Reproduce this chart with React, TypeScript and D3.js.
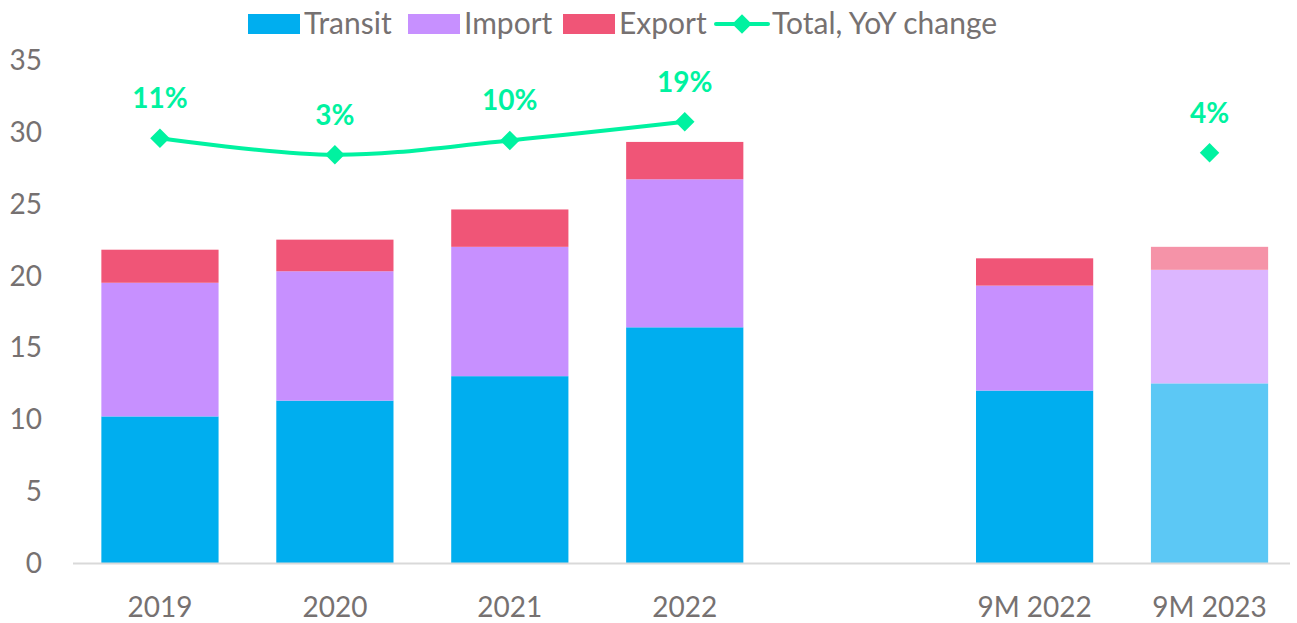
import React from "react";
import * as d3 from "d3";

const WIDTH = 1297;
const HEIGHT = 623;

// chart data
const categories = ["2019", "2020", "2021", "2022", "", "9M 2022", "9M 2023"];
const transit = [10.2, 11.3, 13.0, 16.4, null, 12.0, 12.5];
const importVals = [9.3, 9.0, 9.0, 10.3, null, 7.3, 7.9];
const exportVals = [2.3, 2.2, 2.6, 2.6, null, 1.9, 1.6];
const yoyChange = [0.11, 0.03, 0.10, 0.19, null, null, 0.04];
const yTicks = [0, 5, 10, 15, 20, 25, 30, 35];

const seriesNames = ["Transit", "Import", "Export"];
const colors = ["#00AEEF", "#C790FF", "#F05577"];
const lightColors = ["#5CC8F5", "#DCB6FF", "#F593A8"];
const GREEN = "#00F2A0";
const TEXT = "#767171";
const FONT = "Lato, 'Open Sans', sans-serif";

const margin = { left: 72.5, right: 0, top: 60, bottom: 60 };

function App() {
  const x = d3
    .scaleBand<string>()
    .domain(categories.map((c, i) => String(i)))
    .range([margin.left, WIDTH - margin.right])
    .paddingInner(0.33)
    .paddingOuter(0.165);

  const y = d3.scaleLinear().domain([0, 35]).range([563, 60]);
  // hidden secondary axis for the YoY line
  const y2 = d3.scaleLinear().domain([-1.95, 0.49]).range([563, 60]);

  const rows = categories.map((c, i) => ({
    key: String(i),
    label: c,
    vals: [transit[i], importVals[i], exportVals[i]],
  }));

  const stack = d3
    .stack<any>()
    .keys([0, 1, 2] as any)
    .value((d: any, k: any) => d.vals[k] ?? 0);
  const stacked = stack(rows);

  const linePts = yoyChange
    .map((v, i) => ({ v, i }))
    .filter((d) => d.v !== null && d.i <= 3) as { v: number; i: number }[];
  const allPts = yoyChange
    .map((v, i) => ({ v, i }))
    .filter((d) => d.v !== null) as { v: number; i: number }[];

  const cx = (i: number) => (x(String(i)) as number) + x.bandwidth() / 2;

  const line = d3
    .line<{ v: number; i: number }>()
    .x((d) => cx(d.i))
    .y((d) => y2(d.v))
    .curve(d3.curveCatmullRom);

  const diamond = d3.symbol().type(d3.symbolSquare).size(190);

  // legend layout
  const legend = [
    { name: "Transit", x: 248, type: "rect", color: colors[0] },
    { name: "Import", x: 408, type: "rect", color: colors[1] },
    { name: "Export", x: 563, type: "rect", color: colors[2] },
    { name: "Total, YoY change", x: 716, type: "line", color: GREEN },
  ];

  return (
    <svg
      width={WIDTH}
      height={HEIGHT}
      style={{ position: "absolute", left: 0, top: 0, background: "#fff" }}
      fontFamily={FONT}
    >
      {/* legend */}
      {legend.map((l) => (
        <g key={l.name} transform={`translate(${l.x},0)`}>
          {l.type === "rect" ? (
            <rect x={0} y={14} width={52} height={20} fill={l.color} />
          ) : (
            <g>
              <line x1={0} x2={52} y1={24} y2={24} stroke={l.color} strokeWidth={4} strokeLinecap="round" />
              <path d={diamond() as string} transform="translate(26,24) rotate(45)" fill={l.color} />
            </g>
          )}
          <text x={56} y={34} fontSize={30} fill={TEXT}>
            {l.name}
          </text>
        </g>
      ))}

      {/* y axis labels */}
      {yTicks.map((t) => (
        <text key={t} x={42} y={y(t) + 10} textAnchor="end" fontSize={28} fill={TEXT}>
          {t}
        </text>
      ))}

      {/* bars */}
      {stacked.map((layer, si) =>
        layer.map((d, i) => {
          if (rows[i].vals[si] == null) return null;
          const light = rows[i].label === "9M 2023";
          return (
            <rect
              key={`${si}-${i}`}
              x={x(rows[i].key)}
              width={x.bandwidth()}
              y={y(d[1])}
              height={y(d[0]) - y(d[1])}
              fill={light ? lightColors[si] : colors[si]}
            >
              <title>{seriesNames[si]}</title>
            </rect>
          );
        })
      )}

      {/* baseline */}
      <line x1={73} x2={1290} y1={y(0) + 0.5} y2={y(0) + 0.5} stroke="#D9D9D9" strokeWidth={2} />

      {/* category labels */}
      {rows.map((r) => (
        <text key={r.key} x={cx(+r.key)} y={617} textAnchor="middle" fontSize={28} fill={TEXT}>
          {r.label}
        </text>
      ))}

      {/* YoY line */}
      <path d={line(linePts) as string} fill="none" stroke={GREEN} strokeWidth={4} />
      {allPts.map((p) => (
        <g key={p.i}>
          <path
            d={diamond() as string}
            transform={`translate(${cx(p.i)},${y2(p.v)}) rotate(45)`}
            fill={GREEN}
          />
          <text
            x={cx(p.i)}
            y={y2(p.v) - 30}
            textAnchor="middle"
            fontSize={28}
            fontWeight="bold"
            fill={GREEN}
          >
            {d3.format(".0%")(p.v)}
          </text>
        </g>
      ))}
    </svg>
  );
}

export default App;
